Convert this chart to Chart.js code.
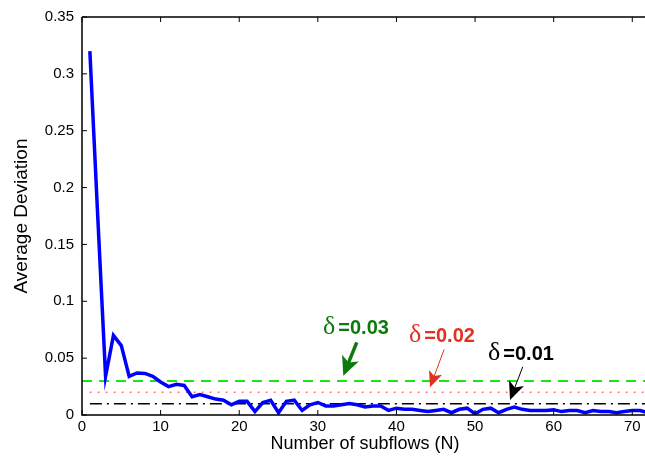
<!DOCTYPE html>
<html lang="en">
<head>
    <meta charset="UTF-8">
    <title>Average Deviation vs Number of subflows</title>
    <script src="https://cdn.jsdelivr.net/npm/chart.js"></script>
    <style>
        body {
            margin: 0;
            padding: 0;
            background-color: #ffffff;
            overflow: hidden;
        }

        .chart-wrapper {
            width: 648px;
            height: 466px;
        }
    </style>
</head>
<body>
    <div class="chart-wrapper">
        <canvas id="deviationChart"></canvas>
    </div>
    <script>
        // Number of subflows N = 1..72
        const subflows = [
            1, 2, 3, 4, 5, 6, 7, 8, 9, 10, 11, 12, 13, 14, 15, 16, 17, 18,
            19, 20, 21, 22, 23, 24, 25, 26, 27, 28, 29, 30, 31, 32, 33, 34, 35, 36,
            37, 38, 39, 40, 41, 42, 43, 44, 45, 46, 47, 48, 49, 50, 51, 52, 53, 54,
            55, 56, 57, 58, 59, 60, 61, 62, 63, 64, 65, 66, 67, 68, 69, 70, 71, 72
        ];

        // Average deviation
        const avgDeviation = [
            0.320, 0.175, 0.034, 0.070, 0.061, 0.034, 0.037, 0.0366, 0.034, 0.029, 0.025, 0.027,
            0.026, 0.016, 0.018, 0.016, 0.014, 0.013, 0.009, 0.012, 0.012, 0.003, 0.011, 0.013,
            0.002, 0.012, 0.013, 0.004, 0.009, 0.011, 0.008, 0.008, 0.009, 0.010, 0.009, 0.007,
            0.008, 0.008, 0.004, 0.006, 0.005, 0.005, 0.004, 0.003, 0.004, 0.005, 0.002, 0.005,
            0.006, 0.001, 0.005, 0.006, 0.002, 0.005, 0.007, 0.005, 0.004, 0.004, 0.004, 0.0045,
            0.003, 0.004, 0.004, 0.002, 0.004, 0.003, 0.003, 0.002, 0.003, 0.004, 0.004, 0.002
        ];

        // Threshold levels (delta)
        const deltaValues = [0.03, 0.02, 0.01];
        const deltaLabels = ['=0.03', '=0.02', '=0.01'];
        const thresholdStart = [0, 1, 1];
        const thresholdEnd = [72, 72, 72];

        const xTicks = [0, 10, 20, 30, 40, 50, 60, 70];
        const yTicks = [0, 0.05, 0.1, 0.15, 0.2, 0.25, 0.3, 0.35];

        const FONT = "'Liberation Sans', Arial, Helvetica, sans-serif";

        // styles for each threshold, same order as deltaValues
        const thresholdStyle = [
            { color: '#19e619', dash: [10, 7], width: 2 },
            { color: '#ff5a5a', dash: [1.5, 6.5], width: 1.5 },
            { color: '#000000', dash: [12, 5, 2, 5], width: 1.5 }
        ];

        // annotation placement in data units: text left/middle, arrow tail and tip
        const annotationStyle = [
            { color: '#0e7a0e', text: [30.66, 0.0763], from: [34.95, 0.0638], to: [33.24, 0.0345], shaft: 3.5, head: 19, headW: 9 },
            { color: '#e0321e', text: [41.6, 0.0693], from: [46.06, 0.0576], to: [44.27, 0.0243], shaft: 1, head: 16, headW: 7 },
            { color: '#000000', text: [51.65, 0.0535], from: [56.07, 0.0424], to: [54.45, 0.0132], shaft: 1, head: 18, headW: 8 }
        ];

        const seriesPoints = subflows.map((n, i) => ({ x: n, y: avgDeviation[i] }));

        const thresholdSets = deltaValues.map((d, i) => ({
            label: 'delta ' + deltaLabels[i],
            data: [{ x: thresholdStart[i], y: d }, { x: thresholdEnd[i], y: d }],
            borderColor: thresholdStyle[i].color,
            borderWidth: thresholdStyle[i].width,
            borderDash: thresholdStyle[i].dash,
            pointRadius: 0,
            fill: false,
            order: 2
        }));

        function drawArrow(ctx, x1, y1, x2, y2, a) {
            const ang = Math.atan2(y2 - y1, x2 - x1);
            const bx = x2 - a.head * Math.cos(ang);
            const by = y2 - a.head * Math.sin(ang);
            ctx.strokeStyle = a.color;
            ctx.fillStyle = a.color;
            ctx.lineWidth = a.shaft;
            ctx.beginPath();
            ctx.moveTo(x1, y1);
            ctx.lineTo(x2 - (a.head * 0.6) * Math.cos(ang), y2 - (a.head * 0.6) * Math.sin(ang));
            ctx.stroke();
            const px = -Math.sin(ang) * a.headW;
            const py = Math.cos(ang) * a.headW;
            ctx.beginPath();
            ctx.moveTo(x2, y2);
            ctx.lineTo(bx + px, by + py);
            ctx.lineTo(x2 - (a.head * 0.75) * Math.cos(ang), y2 - (a.head * 0.75) * Math.sin(ang));
            ctx.lineTo(bx - px, by - py);
            ctx.closePath();
            ctx.fill();
        }

        // box top line, inward ticks and delta annotations
        const framePlugin = {
            id: 'framePlugin',
            afterDraw(chart) {
                const ctx = chart.ctx;
                const xs = chart.scales.x;
                const ys = chart.scales.y;
                const area = chart.chartArea;
                ctx.save();
                ctx.strokeStyle = '#000000';
                ctx.lineWidth = 1.5;
                ctx.beginPath();
                ctx.moveTo(area.left, area.top);
                ctx.lineTo(area.right, area.top);
                ctx.moveTo(area.left, area.top);
                ctx.lineTo(area.left, area.bottom);
                ctx.lineTo(area.right, area.bottom);
                ctx.stroke();

                ctx.lineWidth = 1;
                xTicks.forEach(t => {
                    const px = xs.getPixelForValue(t);
                    ctx.beginPath();
                    ctx.moveTo(px, area.bottom);
                    ctx.lineTo(px, area.bottom - 5);
                    ctx.moveTo(px, area.top);
                    ctx.lineTo(px, area.top + 5);
                    ctx.stroke();
                });
                yTicks.forEach(t => {
                    const py = ys.getPixelForValue(t);
                    ctx.beginPath();
                    ctx.moveTo(area.left, py);
                    ctx.lineTo(area.left + 5, py);
                    ctx.stroke();
                });

                annotationStyle.forEach((a, i) => {
                    const tx = xs.getPixelForValue(a.text[0]);
                    const ty = ys.getPixelForValue(a.text[1]);
                    ctx.fillStyle = a.color;
                    ctx.textBaseline = 'middle';
                    ctx.textAlign = 'left';
                    ctx.font = "26px 'Liberation Serif', 'DejaVu Serif', serif";
                    ctx.fillText('\u03b4', tx, ty - 1);
                    const dw = ctx.measureText('\u03b4').width;
                    ctx.font = 'bold 20px ' + FONT;
                    ctx.fillText(deltaLabels[i], tx + dw + 3, ty);
                    drawArrow(ctx,
                        xs.getPixelForValue(a.from[0]), ys.getPixelForValue(a.from[1]),
                        xs.getPixelForValue(a.to[0]), ys.getPixelForValue(a.to[1]), a);
                });
                ctx.restore();
            }
        };

        const ctx = document.getElementById('deviationChart').getContext('2d');
        new Chart(ctx, {
            type: 'line',
            data: {
                datasets: [
                    {
                        label: 'Average Deviation',
                        data: seriesPoints,
                        borderColor: '#0000ff',
                        borderWidth: 3.5,
                        pointRadius: 0,
                        tension: 0,
                        fill: false,
                        order: 1
                    },
                    ...thresholdSets
                ]
            },
            options: {
                responsive: true,
                maintainAspectRatio: false,
                animation: false,
                layout: {
                    padding: { top: 16, right: 0, left: 0, bottom: 0 }
                },
                scales: {
                    x: {
                        type: 'linear',
                        min: 0,
                        max: 72,
                        afterFit: scale => { scale.height = 51; },
                        afterBuildTicks: scale => { scale.ticks = xTicks.map(v => ({ value: v })); },
                        grid: { display: false, drawTicks: false },
                        border: { display: false },
                        ticks: {
                            color: '#000000',
                            padding: 3,
                            maxRotation: 0,
                            font: { family: FONT, size: 15 }
                        },
                        title: {
                            display: true,
                            text: 'Number of subflows (N)',
                            color: '#000000',
                            padding: { top: 0, bottom: 11 },
                            font: { family: FONT, size: 18 }
                        }
                    },
                    y: {
                        type: 'linear',
                        min: 0,
                        max: 0.35,
                        afterFit: scale => { scale.width = 82; },
                        afterBuildTicks: scale => { scale.ticks = yTicks.map(v => ({ value: v })); },
                        grid: { display: false, drawTicks: false },
                        border: { display: false },
                        ticks: {
                            color: '#000000',
                            padding: 8,
                            font: { family: FONT, size: 15 },
                            callback: value => String(parseFloat(value.toFixed(2)))
                        },
                        title: {
                            display: true,
                            text: 'Average Deviation',
                            color: '#000000',
                            padding: { top: 10, bottom: 0 },
                            font: { family: FONT, size: 19 }
                        }
                    }
                },
                plugins: {
                    legend: { display: false },
                    tooltip: { enabled: false }
                }
            },
            plugins: [framePlugin]
        });
    </script>
</body>
</html>
